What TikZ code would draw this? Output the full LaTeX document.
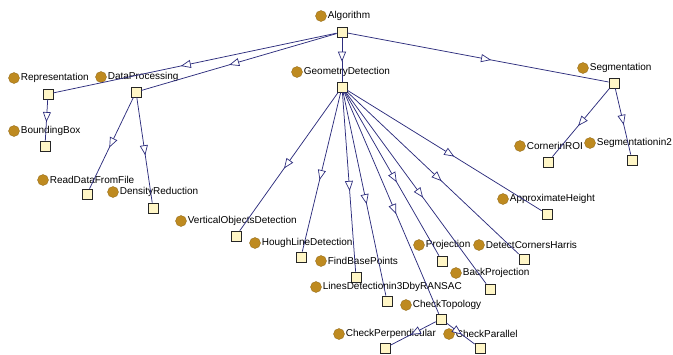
\documentclass[tikz,border=0pt]{standalone}
\usepackage{fontspec}
\setmainfont{Liberation Sans}
\usetikzlibrary{arrows.meta, decorations.markings}

\definecolor{classdot}{RGB}{190,138,32}
\definecolor{classbox}{RGB}{255,246,198}
\definecolor{isaline}{RGB}{45,45,125}

\begin{document}
\begin{tikzpicture}[x=1pt, y=-1pt,
    cdot/.style={circle, fill=classdot, draw=classdot!75!black, line width=0.3pt, minimum size=11pt, inner sep=0pt},
    lbl/.style={font=\fontsize{10}{12}\selectfont, inner sep=0pt, label distance=1pt},
    cbox/.style={rectangle, draw=black!85, fill=classbox, minimum size=10pt, inner sep=0pt, line width=0.7pt},
    isa/.style={draw=isaline, line width=0.75pt, postaction={decorate},
      decoration={markings, mark=at position 0.55 with {\arrow{Triangle[open, length=10pt, width=8pt, color=isaline, fill=white, line width=0.7pt]}}}}]
      \useasboundingbox (0,0) rectangle (673,354);

      % 1. 頂層類別
      \node[cdot, label={[lbl]right:Algorithm}] (alg-c) at (321,16) {};
      \node[cbox] (alg) at (342,32) {};

      % 2. 第二層類別
      \node[cdot, label={[lbl]right:Representation}] (rep-c) at (14,78) {};
      \node[cbox] (rep) at (48,94) {};
      \node[cdot, label={[lbl]right:DataProcessing}] (dap-c) at (101,77) {};
      \node[cbox] (dap) at (136,92) {};
      \node[cdot, label={[lbl]right:GeometryDetection}] (geo-c) at (297,72) {};
      \node[cbox] (geo) at (342,87) {};
      \node[cdot, label={[lbl]right:Segmentation}] (seg-c) at (583,68) {};
      \node[cbox] (seg) at (614,83) {};

      % 3. Representation, DataProcessing, Segmentation 的子類別
      \node[cdot, label={[lbl]right:BoundingBox}] (bbx-c) at (14,131) {};
      \node[cbox] (bbx) at (45,146) {};
      \node[cdot, label={[lbl]right:ReadDataFromFile}] (rdf-c) at (43,180) {};
      \node[cbox] (rdf) at (87,194) {};
      \node[cdot, label={[lbl]right:DensityReduction}] (dns-c) at (113,192) {};
      \node[cbox] (dns) at (153,208) {};
      \node[cdot, label={[lbl]right:CornerinROI}] (cor-c) at (520,146) {};
      \node[cbox] (cor) at (548,162) {};
      \node[cdot, label={[lbl]right:Segmentationin2}] (sg2-c) at (590,143) {};
      \node[cbox] (sg2) at (632,160) {};

      % 4. GeometryDetection 的子類別
      \node[cdot, label={[lbl]right:VerticalObjectsDetection}] (vod-c) at (181,221) {};
      \node[cbox] (vod) at (236,236) {};
      \node[cdot, label={[lbl]right:HoughLineDetection}] (hld-c) at (255,243) {};
      \node[cbox] (hld) at (301,257) {};
      \node[cdot, label={[lbl]right:FindBasePoints}] (fbp-c) at (321,261) {};
      \node[cbox] (fbp) at (356,277) {};
      \node[cdot, label={[lbl]right:LinesDetectionin3DbyRANSAC}] (ldr-c) at (316,287) {};
      \node[cbox] (ldr) at (387,301) {};
      \node[cdot, label={[lbl]right:Projection}] (prj-c) at (419,245) {};
      \node[cbox] (prj) at (442,261) {};
      \node[cdot, label={[lbl]right:DetectCornersHarris}] (dch-c) at (479,245) {};
      \node[cbox] (dch) at (524,259) {};
      \node[cdot, label={[lbl]right:BackProjection}] (bpr-c) at (456,273) {};
      \node[cbox] (bpr) at (490,289) {};
      \node[cdot, label={[lbl]right:ApproximateHeight}] (aph-c) at (503,199) {};
      \node[cbox] (aph) at (547,214) {};
      \node[cdot, label={[lbl]right:CheckTopology}] (ctp-c) at (406,305) {};
      \node[cbox] (ctp) at (441,319) {};

      % 5. CheckTopology 的子類別
      \node[cdot, label={[lbl]right:CheckPerpendicular}] (cpp-c) at (339,334) {};
      \node[cbox] (cpp) at (385,348) {};
      \node[cdot, label={[lbl]right:CheckParallel}] (cpl-c) at (449,334) {};
      \node[cbox] (cpl) at (480,348) {};

      % 6. 繼承關係
      \draw[isa] (alg) -- (rep);
      \draw[isa] (alg) -- (dap);
      \draw[isa] (alg) -- (geo);
      \draw[isa] (alg) -- (seg);
      \draw[isa] (rep) -- (bbx);
      \draw[isa] (dap) -- (rdf);
      \draw[isa] (dap) -- (dns);
      \draw[isa] (seg) -- (cor);
      \draw[isa] (seg) -- (sg2);
      \draw[isa] (geo) -- (vod);
      \draw[isa] (geo) -- (hld);
      \draw[isa] (geo) -- (fbp);
      \draw[isa] (geo) -- (ldr);
      \draw[isa] (geo) -- (ctp);
      \draw[isa] (geo) -- (prj);
      \draw[isa] (geo) -- (bpr);
      \draw[isa] (geo) -- (dch);
      \draw[isa] (geo) -- (aph);
      \draw[isa] (ctp) -- (cpp);
      \draw[isa] (ctp) -- (cpl);
    \end{tikzpicture}
\end{document}
